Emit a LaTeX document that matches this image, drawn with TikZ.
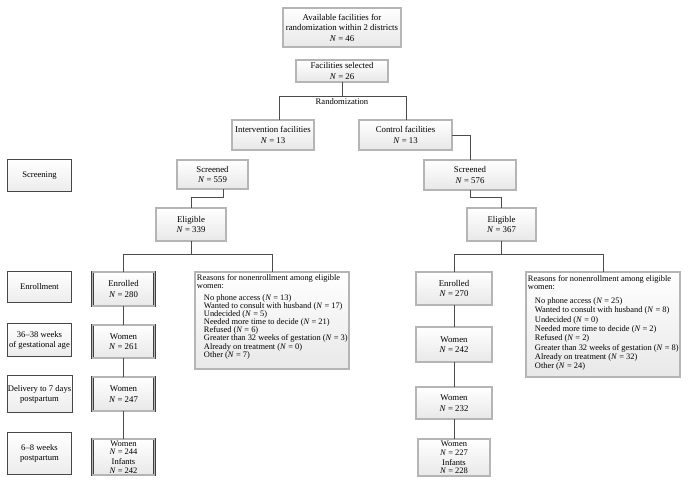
\documentclass[tikz,border=0pt]{standalone}
\usepackage{fontspec}
\setmainfont{Liberation Serif}
\usetikzlibrary{positioning}

\newcommand{\nval}[1]{\textit{N}~=~#1}

\begin{document}
\begin{tikzpicture}[x=1pt, y=-1pt,
    stagebox/.style={draw=gray!50!black, double=gray!58, double distance=1.3pt,
      line width=0.5pt, top color=white, bottom color=gray!18, align=center,
      inner sep=1pt, font=\fontsize{8.8}{10.5}\selectfont},
    pairbox/.style={stagebox, inner ysep=0pt, font=\fontsize{8.5}{8.4}\selectfont},
    phasebox/.style={draw=gray!55!black, line width=0.65pt, top color=white,
      bottom color=gray!15, align=center, inner sep=1pt, minimum width=64pt,
      font=\fontsize{8.6}{10}\selectfont},
    reasontext/.style={align=left, inner sep=0pt, anchor=north west},
    link/.style={draw=gray!60!black, line width=0.65pt}]

    \useasboundingbox (0,0) rectangle (689,485);

    \node[stagebox, minimum width=118pt, minimum height=39pt] (avail) at (342,27.5)
      {Available facilities for\\randomization within 2 districts\\\nval{46}};

    \node[stagebox, minimum width=92pt, minimum height=22pt] (selected) at (342,71)
      {Facilities selected\\\nval{26}};

    \node[font=\fontsize{8.6}{10}\selectfont] (rand) at (342,102) {Randomization};

    \node[stagebox, minimum width=82pt, minimum height=30pt] (interv) at (273,135)
      {Intervention facilities\\\nval{13}};

    \node[stagebox, minimum width=93pt, minimum height=30pt] (control) at (405.5,135)
      {Control facilities\\\nval{13}};

    \coordinate (randL) at (279,96);
    \coordinate (randR) at (406,96);

    \draw[link] (selected) -- (selected |- randL);
    \draw[link] (randL |- interv.north) -- (randL) -- (randR) -- (randR |- control.north);

    % phases
    \node[phasebox, minimum height=32pt] (phScreen) at (39.5,175.5) {Screening};
    \node[phasebox, minimum height=31pt] (phEnroll) at (39.5,287) {Enrollment};
    \node[phasebox, minimum height=33pt] (phGest) at (39.5,340) {36--38 weeks\\of gestational age};
    \node[phasebox, minimum height=37pt] (phDeliv) at (39.5,394) {Delivery to 7 days\\postpartum};
    \node[phasebox, minimum height=42pt] (phPost) at (39.5,453.5) {6--8 weeks\\postpartum};

    % intervention arm
    \node[stagebox, minimum width=71pt, minimum height=29pt] (scrA) at (212.5,174.5)
      {Screened\\\nval{559}};
    \node[stagebox, minimum width=70pt, minimum height=33pt] (eligA) at (191,224.5)
      {Eligible\\\nval{339}};
    \node[stagebox, minimum width=62pt, minimum height=34pt] (enrA) at (123.5,289)
      {Enrolled\\\nval{280}};
    \node[stagebox, minimum width=62pt, minimum height=33pt] (womA1) at (123.5,341.5)
      {Women\\\nval{261}};
    \node[stagebox, minimum width=62pt, minimum height=34pt] (womA2) at (123.5,394)
      {Women\\\nval{247}};
    \node[pairbox, minimum width=62pt, minimum height=36pt] (womA3) at (123.5,457)
      {Women\\\nval{244}\\[2pt]Infants\\\nval{242}};
    \node[stagebox, minimum width=154pt, minimum height=97pt] (reasonsA) at (272,320.5) {};
    \node[reasontext, font=\fontsize{8.4}{8.1}\selectfont] (reasonsAtxt)
      at ([xshift=2pt, yshift=-3pt]reasonsA.north west)
      {Reasons for nonenrollment among eligible\\women:\\[3.4pt]
       \hspace*{7pt}No phone access (\nval{13})\\
       \hspace*{7pt}Wanted to consult with husband (\nval{17})\\
       \hspace*{7pt}Undecided (\nval{5})\\
       \hspace*{7pt}Needed more time to decide (\nval{21})\\
       \hspace*{7pt}Refused (\nval{6})\\
       \hspace*{7pt}Greater than 32 weeks of gestation (\nval{3})\\
       \hspace*{7pt}Already on treatment (\nval{0})\\
       \hspace*{7pt}Other (\nval{7})};

    \draw[link] ([xshift=10.5pt]scrA.south) -- ++(0,8) -| (eligA.north);
    \draw[link] (eligA.south) -- ++(0,13) coordinate (forkA);
    \draw[link] (enrA.north) |- (forkA) -| (reasonsA.north);
    \draw[link] (enrA) -- (womA1) -- (womA2) -- (womA3);

    % control arm
    \node[stagebox, minimum width=92pt, minimum height=30pt] (scrB) at (470,175)
      {Screened\\\nval{576}};
    \node[stagebox, minimum width=69pt, minimum height=33pt] (eligB) at (501.5,224.5)
      {Eligible\\\nval{367}};
    \node[stagebox, minimum width=76pt, minimum height=33pt] (enrB) at (454,288.5)
      {Enrolled\\\nval{270}};
    \node[stagebox, minimum width=76pt, minimum height=35pt] (womB1) at (454,344.5)
      {Women\\\nval{242}};
    \node[stagebox, minimum width=76pt, minimum height=32pt] (womB2) at (454,403)
      {Women\\\nval{232}};
    \node[pairbox, minimum width=72pt, minimum height=37pt] (womB3) at (454,457.5)
      {Women\\\nval{227}\\[2pt]Infants\\\nval{228}};
    \node[stagebox, minimum width=154pt, minimum height=105pt] (reasonsB) at (603,324.5) {};
    \node[reasontext, font=\fontsize{8.4}{9.3}\selectfont] (reasonsBtxt)
      at ([xshift=2pt, yshift=-4pt]reasonsB.north west)
      {Reasons for nonenrollment among eligible\\[-1.8pt]women:\\[5pt]
       \hspace*{7pt}No phone access (\nval{25})\\
       \hspace*{7pt}Wanted to consult with husband (\nval{8})\\
       \hspace*{7pt}Undecided (\nval{0})\\
       \hspace*{7pt}Needed more time to decide (\nval{2})\\
       \hspace*{7pt}Refused (\nval{2})\\
       \hspace*{7pt}Greater than 32 weeks of gestation (\nval{8})\\
       \hspace*{7pt}Already on treatment (\nval{32})\\
       \hspace*{7pt}Other (\nval{24})};

    \draw[link] (control.east) -| (scrB.north);
    \draw[link] (scrB.south) -- ++(0,7) -| (eligB.north);
    \draw[link] (eligB.south) -- ++(0,13) coordinate (forkB);
    \draw[link] (enrB.north) |- (forkB) -| (reasonsB.north);
    \draw[link] (enrB) -- (womB1) -- (womB2) -- (womB3);

  \end{tikzpicture}
\end{document}
